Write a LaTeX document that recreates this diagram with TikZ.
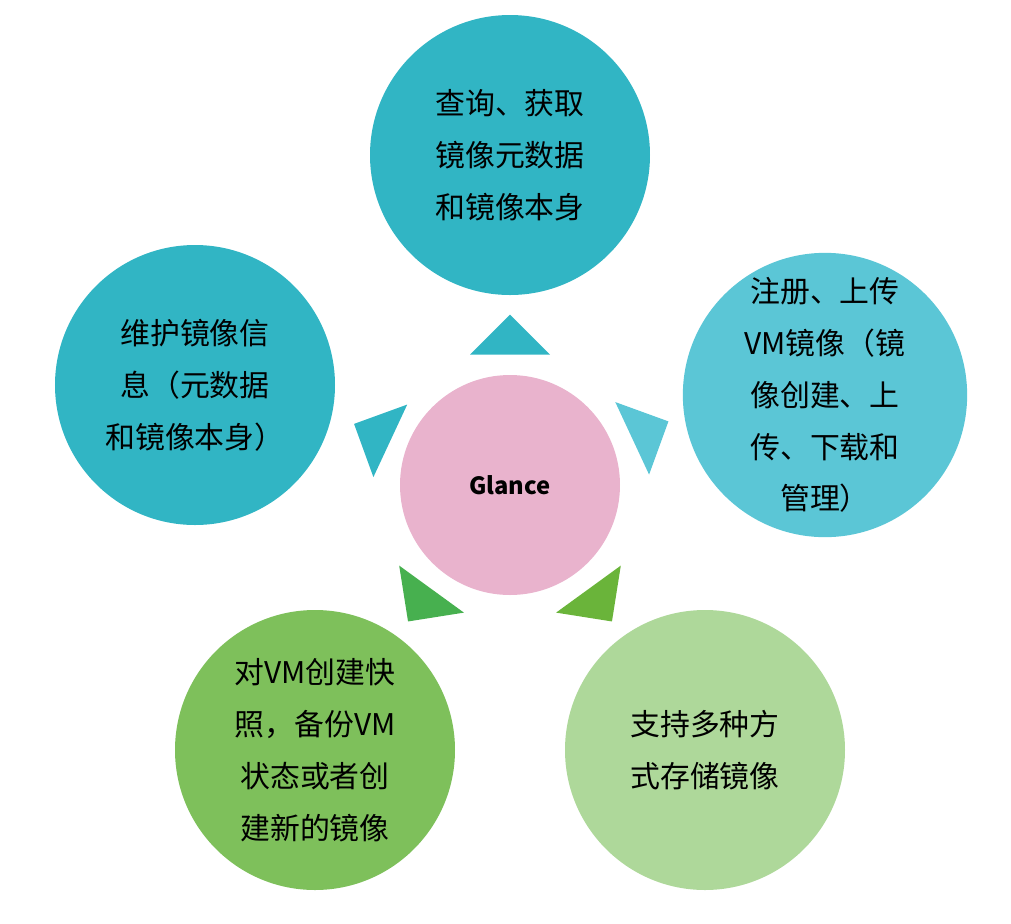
\documentclass[tikz,border=0pt]{standalone}
\usepackage{fontspec}
\setmainfont{Noto Sans CJK SC}
\usetikzlibrary{shapes.arrows}
\definecolor{tealA}{HTML}{31B5C4}
\definecolor{tealB}{HTML}{5BC6D6}
\definecolor{pinkC}{HTML}{E9B3CD}
\definecolor{greenA}{HTML}{7EC05B}
\definecolor{greenB}{HTML}{AED89A}
\definecolor{greenArr}{HTML}{47B04F}
\definecolor{greenArrB}{HTML}{6AB43A}
\tikzset{
  topic/.style={
    circle,
    minimum size=5.6cm,
    align=center,
    inner sep=0pt,
    font=\fontsize{17}{29.5}\selectfont
  },
  hub/.style={
    circle,
    fill=pinkC,
    minimum size=4.4cm,
    font=\fontsize{13.5}{16}\selectfont\bfseries
  },
  blockarrow/.style={
    single arrow,
    minimum width=1.6cm,
    minimum height=0.8cm,
    single arrow head extend=0.4cm,
    inner sep=0pt
  }
}
\begin{document}
\begin{tikzpicture}
  \useasboundingbox (0,0) rectangle (20.22,-18.46);
  \node (glance) [hub] at (10.2,-9.7) {Glance};
  \node (query) [topic, fill=tealA] at (10.2,-3.1) {查询、获取\\镜像元数据\\和镜像本身};
  \node (maint) [topic, fill=tealA] at (3.9,-7.7) {维护镜像信\\息（元数据\\和镜像本身）};
  \node (reg) [topic, fill=tealB] at (16.5,-7.9) {注册、上传\\VM镜像（镜\\像创建、上\\传、下载和\\管理）};
  \node (snap) [topic, fill=greenA] at (6.3,-15.0) {对VM创建快\\照，备份VM\\状态或者创\\建新的镜像};
  \node (store) [topic, fill=greenB] at (14.1,-15.0) {支持多种方\\式存储镜像};
  % arrows
  \node (aq) [blockarrow, fill=tealA, rotate=90] at (10.2,-6.7) {};
  \node (am) [blockarrow, fill=tealA, rotate=155] at (7.45,-8.65) {};
  \node (ar) [blockarrow, fill=tealB, rotate=25] at (13.0,-8.6) {};
  \node (as) [blockarrow, fill=greenArr, rotate=-126] at (8.4,-12.1) {};
  \node (at) [blockarrow, fill=greenArrB, rotate=-54] at (12.0,-12.1) {};
\end{tikzpicture}
\end{document}
